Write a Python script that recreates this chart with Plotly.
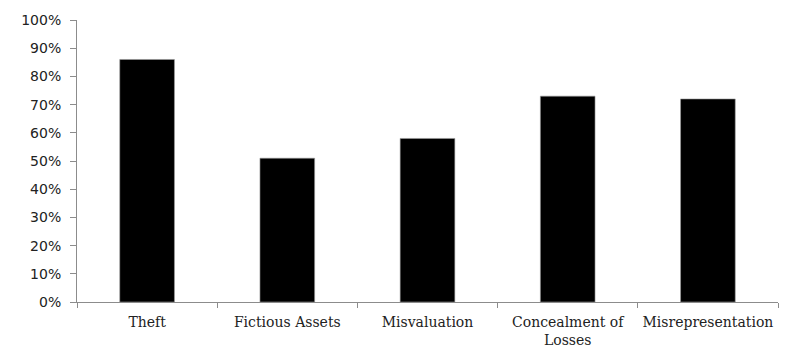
import plotly.graph_objects as go

categories = ["Theft", "Fictious Assets", "Misvaluation", "Concealment of<br>Losses", "Misrepresentation"]
values = [0.86, 0.51, 0.58, 0.73, 0.72]
y_ticks = [0, 0.1, 0.2, 0.3, 0.4, 0.5, 0.6, 0.7, 0.8, 0.9, 1.0]

fig = go.Figure(go.Bar(
    x=categories, y=values,
    marker=dict(color="black", line=dict(color="#9a9a9a", width=0.6)),
))

axis_color = "#8c8c8c"
fig.update_layout(
    width=796, height=360,
    margin=dict(l=77, r=18, t=19, b=57),
    plot_bgcolor="white", paper_bgcolor="white",
    bargap=0.61,
    showlegend=False,
    xaxis=dict(
        showline=True, linecolor=axis_color, linewidth=1,
        ticks="outside", tickson="boundaries", ticklen=5, tickcolor=axis_color,
        tickfont=dict(family="DejaVu Serif", size=14, color="#222"),
        ticklabelstandoff=7,
        showgrid=False,
    ),
    yaxis=dict(
        range=[0, 1], tickvals=y_ticks, tickformat=".0%",
        showline=True, linecolor=axis_color, linewidth=1,
        ticks="outside", ticklen=6, tickcolor=axis_color,
        tickfont=dict(family="DejaVu Sans", size=14, color="#222"),
        ticklabelstandoff=6,
        showgrid=False, zeroline=False,
    ),
)

fig.write_html("out.html", config={"displayModeBar": False},
               post_script="document.body.style.margin='0';")
